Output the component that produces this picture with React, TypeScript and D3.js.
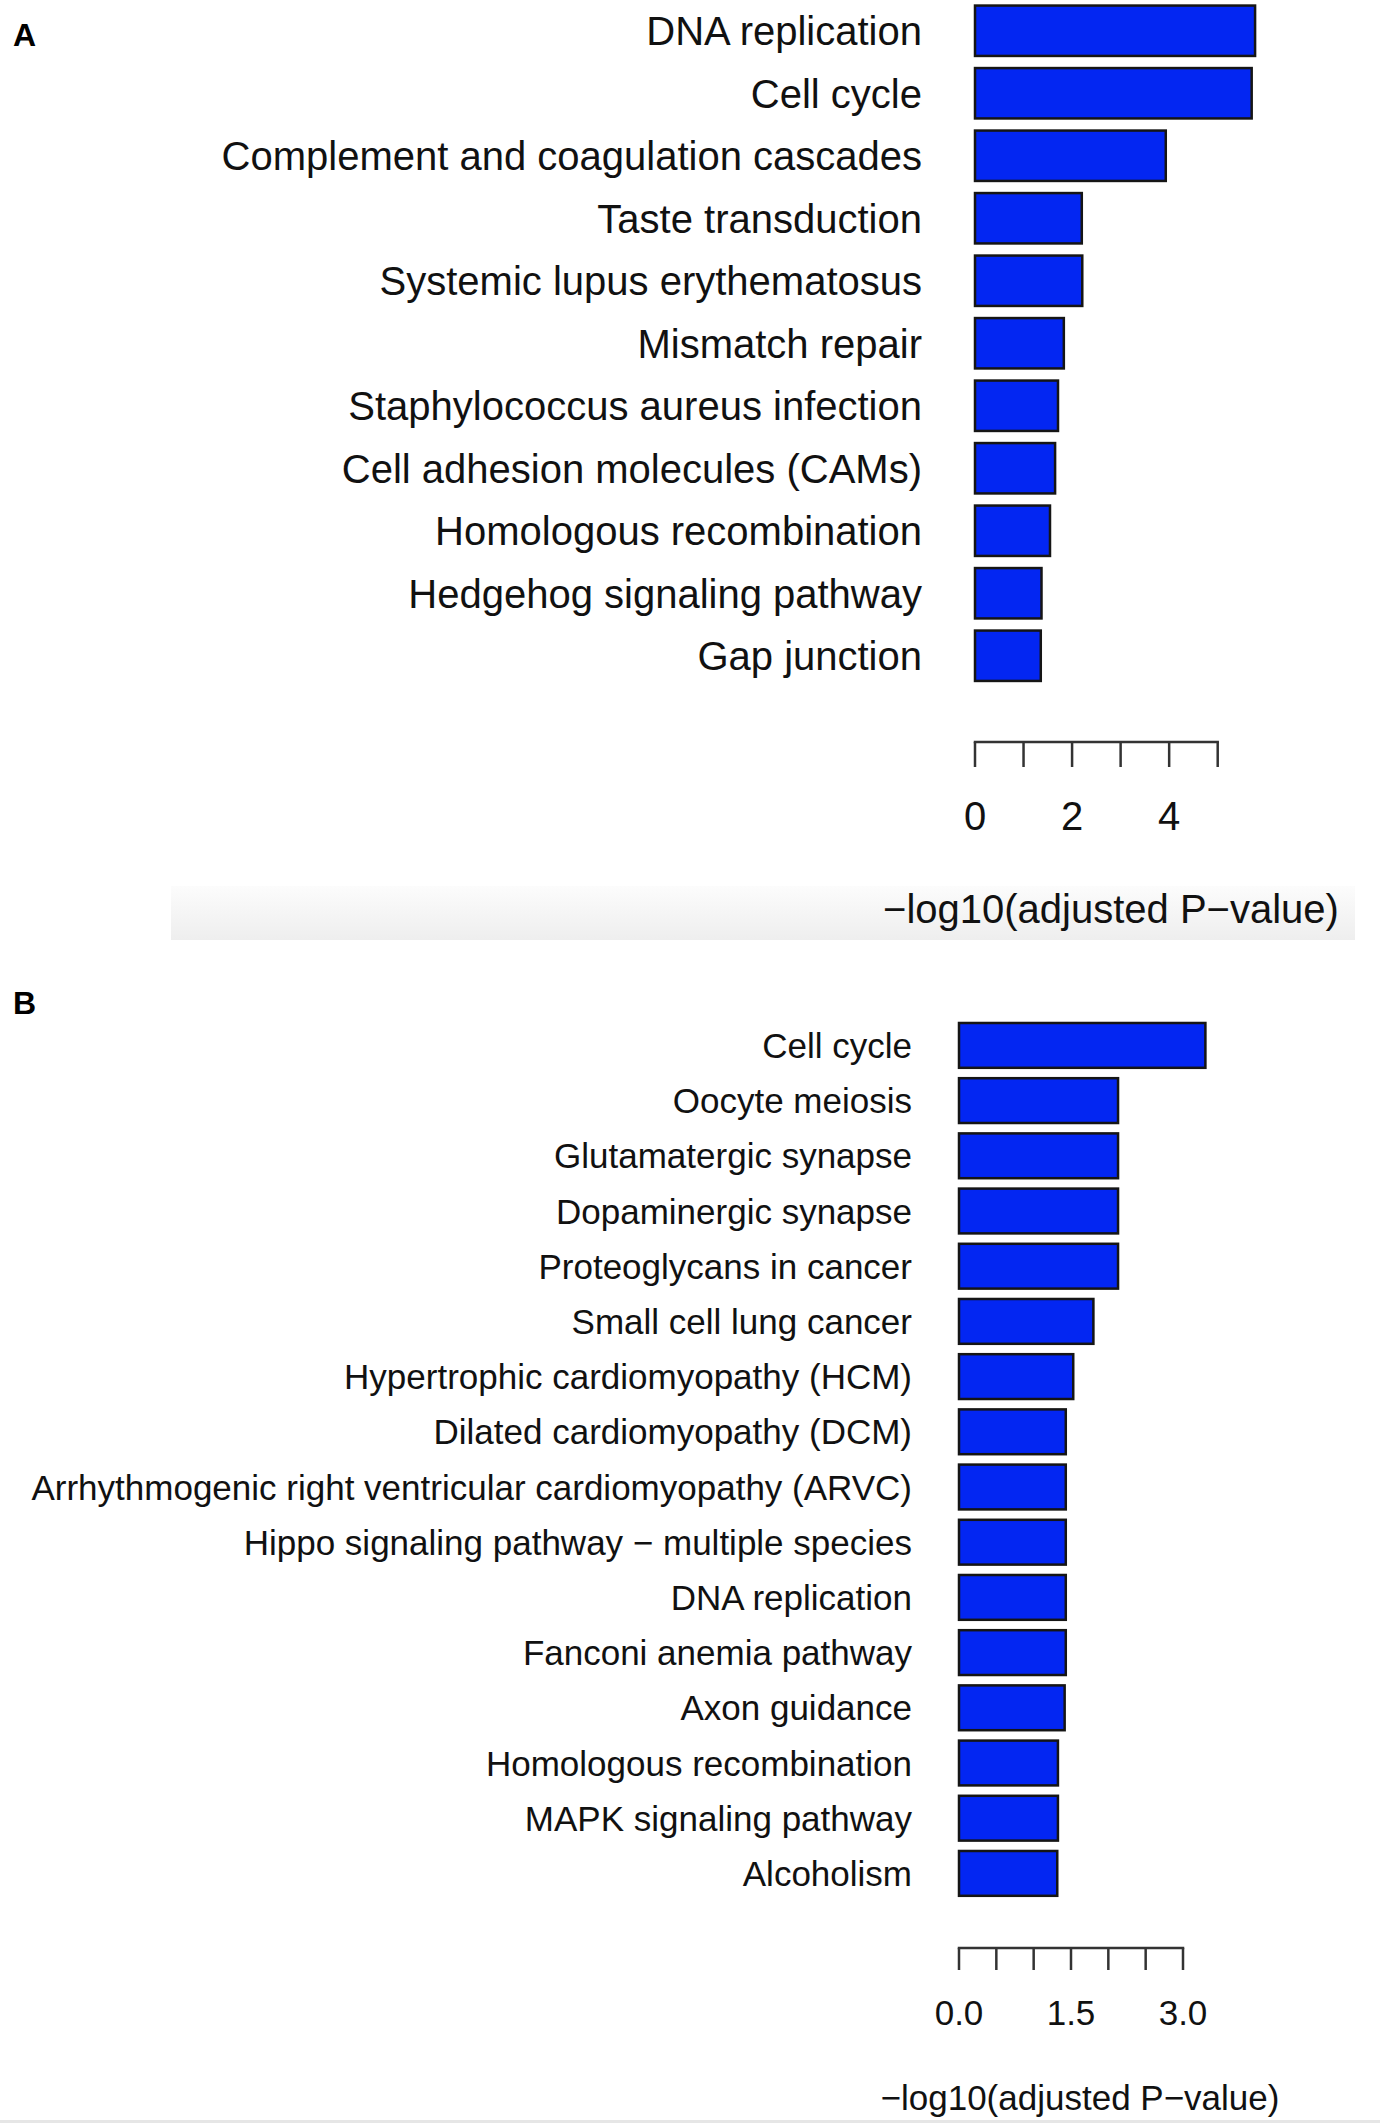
import * as React from 'react'
import * as d3 from 'd3'

// Panel A: KEGG terms
const termsA = [
  'DNA replication',
  'Cell cycle',
  'Complement and coagulation cascades',
  'Taste transduction',
  'Systemic lupus erythematosus',
  'Mismatch repair',
  'Staphylococcus aureus infection',
  'Cell adhesion molecules (CAMs)',
  'Homologous recombination',
  'Hedgehog signaling pathway',
  'Gap junction',
]
const valuesA = [5.77, 5.7, 3.93, 2.2, 2.21, 1.83, 1.71, 1.65, 1.545, 1.37, 1.355]
const ticksA = [0, 1, 2, 3, 4, 5]
const tickLabelsA = [0, 2, 4]

// Panel B
const termsB = [
  'Cell cycle',
  'Oocyte meiosis',
  'Glutamatergic synapse',
  'Dopaminergic synapse',
  'Proteoglycans in cancer',
  'Small cell lung cancer',
  'Hypertrophic cardiomyopathy (HCM)',
  'Dilated cardiomyopathy (DCM)',
  'Arrhythmogenic right ventricular cardiomyopathy (ARVC)',
  'Hippo signaling pathway \u2212 multiple species',
  'DNA replication',
  'Fanconi anemia pathway',
  'Axon guidance',
  'Homologous recombination',
  'MAPK signaling pathway',
  'Alcoholism',
]
const valuesB = [3.3, 2.13, 2.13, 2.13, 2.13, 1.8, 1.53, 1.43, 1.43, 1.43, 1.43, 1.43, 1.415, 1.325, 1.325, 1.316]
const ticksB = [0, 0.5, 1, 1.5, 2, 2.5, 3]
const tickLabelsB = [0, 1.5, 3]

const xTitle = '\u2212log10(adjusted P\u2212value)'

const FONT = '"Liberation Sans", Arial, Helvetica, sans-serif'
const BAR_FILL = '#0326f2'

type Panel = {
  letter: string
  letterY: number
  terms: string[]
  values: number[]
  ticks: number[]
  tickLabels: number[]
  fmt: (v: number) => string
  fontSize: number
  xLeft: number
  xRight: number
  yTop: number
  yBottom: number
  pad: number
  labelRight: number
  axisY: number
  tickLen: number
  tickLabelY: number
  titleX: number
  titleY: number
}

const panels: Panel[] = [
  {
    letter: 'A',
    letterY: 46,
    terms: termsA,
    values: valuesA,
    ticks: ticksA,
    tickLabels: tickLabelsA,
    fmt: d3.format('d'),
    fontSize: 40,
    xLeft: 975,
    xRight: 1217.7,
    yTop: -0.5,
    yBottom: 687,
    pad: 0.194,
    labelRight: 922,
    axisY: 742,
    tickLen: 25,
    tickLabelY: 830,
    titleX: 1111,
    titleY: 923,
  },
  {
    letter: 'B',
    letterY: 1014,
    terms: termsB,
    values: valuesB,
    ticks: ticksB,
    tickLabels: tickLabelsB,
    fmt: d3.format('.1f'),
    fontSize: 35,
    xLeft: 959,
    xRight: 1183,
    yTop: 1017.8,
    yBottom: 1901,
    pad: 0.188,
    labelRight: 912,
    axisY: 1948,
    tickLen: 22,
    tickLabelY: 2025,
    titleX: 1080,
    titleY: 2110,
  },
]

function drawPanel(g: d3.Selection<SVGGElement, unknown, null, undefined>, p: Panel) {
  const max = p.ticks[p.ticks.length - 1]
  const x = d3.scaleLinear().domain([0, max]).range([p.xLeft, p.xRight])
  const y = d3
    .scaleBand<string>()
    .domain(p.terms)
    .range([p.yTop, p.yBottom])
    .paddingInner(p.pad)
    .paddingOuter(p.pad / 2)

  g.append('text')
    .attr('x', 13)
    .attr('y', p.letterY)
    .attr('font-size', 32)
    .attr('font-weight', 'bold')
    .attr('fill', '#000')
    .text(p.letter)

  // bars
  p.terms.forEach((t, i) => {
    g.append('rect')
      .attr('x', x(0))
      .attr('y', y(t) ?? 0)
      .attr('width', x(p.values[i]) - x(0))
      .attr('height', y.bandwidth())
      .attr('fill', BAR_FILL)
      .attr('stroke', '#151515')
      .attr('stroke-width', 2.5)

    g.append('text')
      .attr('x', p.labelRight)
      .attr('y', (y(t) ?? 0) + y.bandwidth() / 2 + p.fontSize * 0.36)
      .attr('text-anchor', 'end')
      .attr('font-size', p.fontSize)
      .attr('fill', '#111')
      .text(t)
  })

  // axis
  g.append('line')
    .attr('x1', x(0))
    .attr('x2', x(max))
    .attr('y1', p.axisY)
    .attr('y2', p.axisY)
    .attr('stroke', '#333')
    .attr('stroke-width', 2.5)
    .attr('stroke-linecap', 'square')

  p.ticks.forEach((t) => {
    g.append('line')
      .attr('x1', x(t))
      .attr('x2', x(t))
      .attr('y1', p.axisY)
      .attr('y2', p.axisY + p.tickLen)
      .attr('stroke', '#333')
      .attr('stroke-width', 2.5)
  })

  p.tickLabels.forEach((t) => {
    g.append('text')
      .attr('x', x(t))
      .attr('y', p.tickLabelY)
      .attr('text-anchor', 'middle')
      .attr('font-size', p.fontSize)
      .attr('fill', '#111')
      .text(p.fmt(t))
  })

  g.append('text')
    .attr('x', p.titleX)
    .attr('y', p.titleY)
    .attr('text-anchor', 'middle')
    .attr('font-size', p.fontSize)
    .attr('fill', '#111')
    .text(xTitle)
}

export default function App() {
  const svgRef = React.useRef<SVGSVGElement>(null)

  React.useEffect(() => {
    if (!svgRef.current) return
    const svg = d3.select(svgRef.current)
    svg.selectAll('*').remove()

    const defs = svg.append('defs')
    const grad = defs
      .append('linearGradient')
      .attr('id', 'band')
      .attr('x1', 0)
      .attr('y1', 0)
      .attr('x2', 0)
      .attr('y2', 1)
    grad.append('stop').attr('offset', '0%').attr('stop-color', '#fcfcfc')
    grad.append('stop').attr('offset', '100%').attr('stop-color', '#eeeeee')

    svg.append('rect').attr('width', 1380).attr('height', 2128).attr('fill', '#fff')

    // light strip behind panel A's axis title (scan artefact)
    svg
      .append('rect')
      .attr('x', 171)
      .attr('y', 886)
      .attr('width', 1184)
      .attr('height', 54)
      .attr('fill', 'url(#band)')

    // thin line at the bottom edge
    svg.append('rect').attr('x', 0).attr('y', 2120).attr('width', 1380).attr('height', 3).attr('fill', '#e6e6e6')

    const g = svg.append('g').attr('font-family', FONT)
    panels.forEach((p) => drawPanel(g, p))
  }, [])

  return (
    <div style={{ position: 'absolute', left: 0, top: 0 }}>
      <svg ref={svgRef} width={1380} height={2128} style={{ display: 'block' }} />
    </div>
  )
}
